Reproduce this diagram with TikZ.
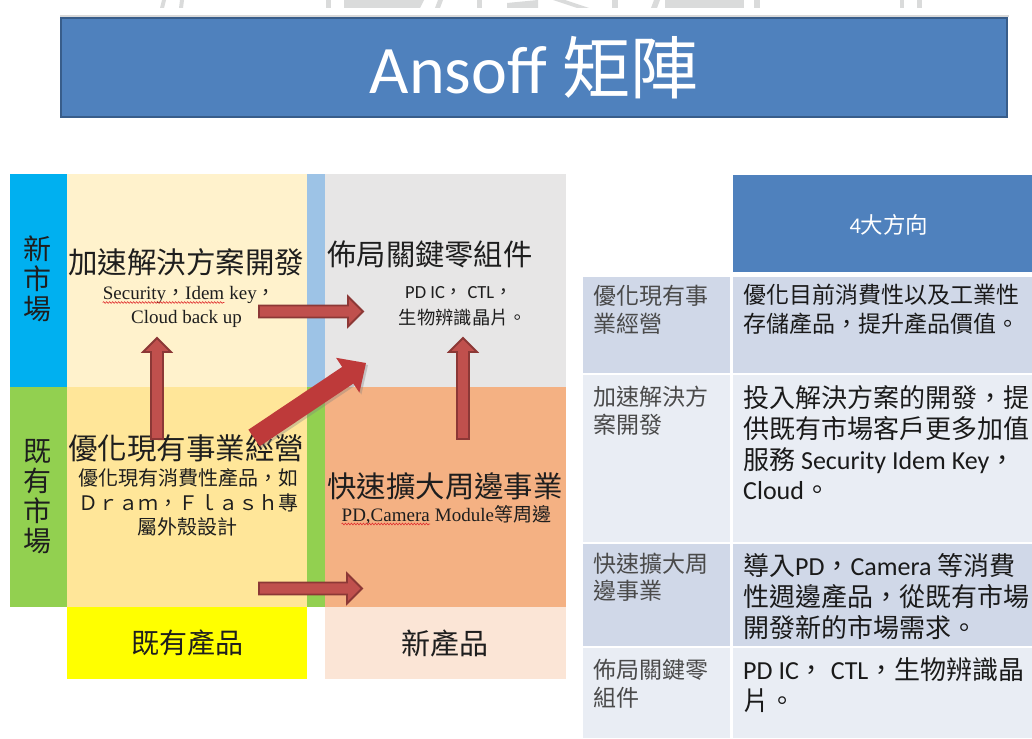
\documentclass[tikz,border=0pt]{standalone}
\usepackage{fontspec}
\setmainfont{Carlito}
\newfontfamily\cjk{Noto Sans CJK TC}
\newfontfamily\tms{Liberation Serif}
\usetikzlibrary{calc,decorations.pathmorphing,shadows}
\newcommand\zh[1]{{\cjk #1}}
\newcommand\fsz[1]{\fontsize{#1}{#1}\selectfont}
\definecolor{ttlfill}{HTML}{4F81BD}
\definecolor{ttlline}{HTML}{385D8A}
\definecolor{cBlue}{HTML}{00B0F0}
\definecolor{cGreen}{HTML}{92D050}
\definecolor{cCream}{HTML}{FFF2CC}
\definecolor{cYel}{HTML}{FFE699}
\definecolor{cLBlue}{HTML}{9DC3E6}
\definecolor{cGray}{HTML}{E7E6E6}
\definecolor{cSalmon}{HTML}{F4B183}
\definecolor{cYellow}{HTML}{FFFF00}
\definecolor{cPale}{HTML}{FBE5D6}
\definecolor{rowDark}{HTML}{D0D8E8}
\definecolor{rowLight}{HTML}{E9EDF4}
\definecolor{arfill}{HTML}{C0504D}
\definecolor{arline}{HTML}{8C3836}
\definecolor{diagfill}{HTML}{BE3A3A}
\definecolor{ink}{HTML}{1E1E1E}
\definecolor{tgray}{HTML}{4A4A4A}
\definecolor{tink}{HTML}{1A1A1A}
\definecolor{wm}{HTML}{DADBDB}
\definecolor{squig}{HTML}{E03030}
% block arrow: #1 name, #2 tail, #3 tip, #4 shaft half width, #5 head half width, #6 head length, #7 style
\newcommand\blockarrow[7]{%
  \coordinate (#1h) at ($(#3)!#6!(#2)$);
  \draw[#7] ($(#2)!#4!90:(#3)$) -- ($(#1h)!#4!-90:(#2)$) -- ($(#1h)!#5!-90:(#2)$) -- (#3)
     -- ($(#1h)!#5!90:(#2)$) -- ($(#1h)!#4!90:(#2)$) -- ($(#2)!#4!-90:(#3)$) -- cycle;}
\tikzset{
  tx/.style={inner sep=0, anchor=base, text=ink},
  tl/.style={inner sep=0, anchor=base west, text=tgray, font={\cjk\fsz{23}}},
  tr/.style={inner sep=0, anchor=base west, text=tink},
  ar/.style={fill=arfill, draw=arline, line width=1.8pt, line join=miter},
  dar/.style={fill=diagfill, draw=none, drop shadow={opacity=0.35, shadow xshift=2pt, shadow yshift=-2pt}},
  sq/.style={draw=squig, line width=0.6pt, decorate, decoration={snake, amplitude=0.9pt, segment length=3pt}},
}
\begin{document}
\begin{tikzpicture}[x=1pt, y=-1pt]
\useasboundingbox (0,0) rectangle (1032,738);
\fill[white] (0,0) rectangle (1032,738);
% watermark fragments
\fill[wm] (162,0) -- (166,0) -- (164,8) -- (160,8) -- cycle;
\fill[wm] (180,0) -- (184,0) -- (183,8) -- (179,8) -- cycle;
\fill[wm] (326,0) rectangle (331,8);
\fill[wm] (344,0) -- (424,0) -- (420,8) -- (344,8) -- cycle;
\fill[wm] (438,0) -- (443,0) -- (440,8) -- (435,8) -- cycle;
\fill[wm] (477,0) rectangle (482,8);
\fill[wm] (507,3) -- (538,0) -- (538,8) -- (507,8) -- cycle;
\fill[wm] (553,0) -- (565,0) -- (589,8) -- (577,8) -- cycle;
\fill[wm] (612,0) rectangle (618,8);
\fill[wm] (654,0) -- (660,0) -- (657,8) -- (651,8) -- cycle;
\fill[wm] (665,0) rectangle (744,8);
\fill[wm] (754,0) rectangle (760,8);
\fill[wm] (900,0) rectangle (904,8);
\fill[wm] (917,0) rectangle (922,8);
% title
\fill[black!15] (60,15) rectangle (1009,17);
\node[draw=ttlline, line width=2.5pt, fill=ttlfill, minimum width=946pt, minimum height=99pt,
      inner sep=0, text=white, font=\fsz{68}] (title) at (534,67.5) {Ansoff \zh{矩陣}};
% matrix backgrounds
\fill[cBlue] (10,174) rectangle (67,387);
\fill[cGreen] (10,387) rectangle (67,607);
\fill[cCream] (67,174) rectangle (307,387);
\fill[cYel] (67,387) rectangle (307,607);
\fill[cLBlue] (307,174) rectangle (325,387);
\fill[cGreen] (307,387) rectangle (325,607);
\fill[cGray] (325,174) rectangle (566,387);
\fill[cSalmon] (325,387) rectangle (566,607);
\fill[cYellow] (67,607) rectangle (307,679);
\fill[cPale] (325,607) rectangle (566,679);
% side labels
\node[inner sep=0, text=ink, align=center, font={\cjk\fontsize{28}{30}\selectfont}] (newmkt) at (37,279) {新\\市\\場};
\node[inner sep=0, text=ink, align=center, font={\cjk\fontsize{28}{30}\selectfont}] (oldmkt) at (37,497) {既\\有\\市\\場};
% quadrant texts
\node[tx, font={\cjk\fsz{29.5}}] (q1) at (186,273.2) {加速解決方案開發};
\node[tx, anchor=base west, font={\tms\fsz{19}}] (q1a) at (102.7,299.5) {Security\zh{，}Idem};
\node[tx, anchor=base west, font={\tms\fsz{19}}] (q1b) at (q1a.base east) {\ key\zh{，}};
\node[tx, font={\tms\fsz{19}}] (q1c) at (186.5,323.5) {Cloud back up};
\node[tx, font={\cjk\fsz{29.3}}] (q2) at (430,265) {佈局關鍵零組件};
\node[tx, font={\fsz{18.5}}] (q2a) at (459,298) {PD IC\zh{，} CTL\zh{，}};
\node[tx, font={\cjk\fsz{18.3}}] (q2b) at (463,324) {生物辨識晶片。};
\node[tx, font={\cjk\fsz{29.5}}] (q3) at (186,459.2) {優化現有事業經營};
\node[tx, font={\cjk\fsz{20}}] (q3a) at (188,485.6) {優化現有消費性產品，如};
\node[tx, font={\cjk\fsz{20}}] (q3b) at (188,510.6) {Ｄｒａｍ，Ｆｌａｓｈ專};
\node[tx, font={\cjk\fsz{20}}] (q3c) at (187,534.6) {屬外殼設計};
\node[tx, font={\cjk\fsz{29.4}}] (q4) at (445,497.2) {快速擴大周邊事業};
\node[tx, anchor=base west, font={\tms\fsz{19}}] (q4a) at (341.5,521) {PD,Camera};
\node[tx, anchor=base west, font={\tms\fsz{19}}] (q4b) at (q4a.base east) {\ Module\zh{等周邊}};
\node[tx, font={\cjk\fsz{28}}] (oldprod) at (187,653.6) {既有產品};
\node[tx, font={\cjk\fsz{29}}] (newprod) at (445,654) {新產品};
% spell-check squiggles
\draw[sq] ($(q1a.base west)+(0,3)$) -- ($(q1a.base east)+(0,3)$);
\draw[sq] ($(q4a.base west)+(0,3)$) -- ($(q4a.base east)+(0,3)$);
% arrows
\coordinate (aT1) at (259,311.5); \coordinate (aT2) at (363,311.5);
\coordinate (aB1) at (259,588.5); \coordinate (aB2) at (362,588.5);
\coordinate (aL1) at (157,439);   \coordinate (aL2) at (157,338);
\coordinate (aR1) at (463,439);   \coordinate (aR2) at (463,338);
\coordinate (aD1) at (254,438);   \coordinate (aD2) at (366,363);
\blockarrow{aT}{aT1}{aT2}{6pt}{15pt}{15pt}{ar}
\blockarrow{aB}{aB1}{aB2}{6pt}{15pt}{15pt}{ar}
\blockarrow{aL}{aL1}{aL2}{6pt}{14pt}{14pt}{ar}
\blockarrow{aR}{aR1}{aR2}{6pt}{14pt}{14pt}{ar}
\blockarrow{aD}{aD1}{aD2}{10pt}{21pt}{22pt}{dar}
% table
\fill[ttlfill] (733,175) rectangle (1032,272);
\node[inner sep=0, text=white, font=\fsz{22.5}] (hdr) at (889,225) {4\zh{大方向}};
\fill[rowDark] (583,277) rectangle (730,373);
\fill[rowDark] (733,277) rectangle (1032,373);
\fill[rowLight] (583,375) rectangle (730,542);
\fill[rowLight] (733,375) rectangle (1032,542);
\fill[rowDark] (583,544) rectangle (730,646);
\fill[rowDark] (733,544) rectangle (1032,646);
\fill[rowLight] (583,648) rectangle (730,738);
\fill[rowLight] (733,648) rectangle (1032,738);
% left column
\node[tl] (l1a) at (593,304) {優化現有事};
\node[tl] (l1b) at (593,332) {業經營};
\node[tl] (l2a) at (593,405.4) {加速解決方};
\node[tl] (l2b) at (593,433.4) {案開發};
\node[tl] (l3a) at (593,572) {快速擴大周};
\node[tl] (l3b) at (593,599.5) {邊事業};
\node[tl] (l4a) at (593,678.7) {佈局關鍵零};
\node[tl] (l4b) at (593,706) {組件};
% right column
\node[tr, font={\cjk\fsz{23}}] (r1a) at (743,303.7) {優化目前消費性以及工業性};
\node[tr, font={\cjk\fsz{23}}] (r1b) at (743,332.7) {存儲產品，提升產品價值。};
\node[tr, font={\cjk\fsz{26}}] (r2a) at (743,407) {投入解決方案的開發，提};
\node[tr, font={\cjk\fsz{26}}] (r2b) at (743,438) {供既有市場客戶更多加值};
\node[tr, font={\fsz{26}}] (r2c) at (743,469) {\zh{服務} Security Idem Key\zh{，}};
\node[tr, font={\fsz{26}}] (r2d) at (743,499.5) {Cloud\zh{。}};
\node[tr, font={\fsz{26}}] (r3a) at (743,575) {\zh{導入}PD\zh{，}Camera \zh{等消費}};
\node[tr, font={\cjk\fsz{26}}] (r3b) at (743,606.5) {性週邊產品，從既有市場};
\node[tr, font={\cjk\fsz{26}}] (r3c) at (743,637) {開發新的市場需求。};
\node[tr, font={\fsz{26}}] (r4a) at (743,679.5) {PD IC\zh{，} CTL\zh{，生物辨識晶}};
\node[tr, font={\cjk\fsz{26}}] (r4b) at (743,710) {片。};
\end{tikzpicture}
\end{document}
